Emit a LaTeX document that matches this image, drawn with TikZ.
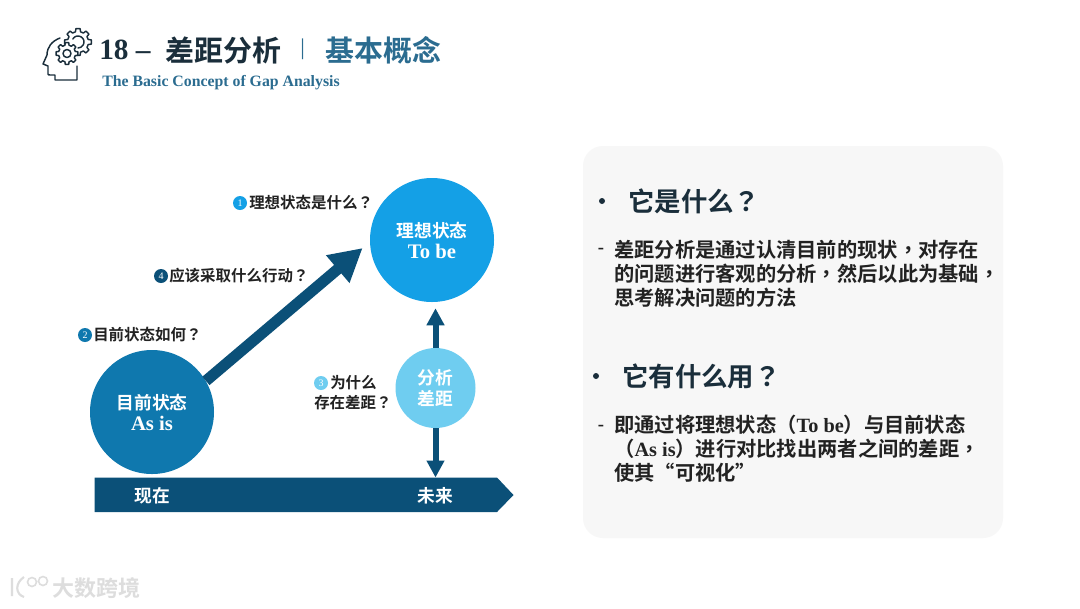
\documentclass[tikz,border=0pt]{standalone}
\usepackage{fontspec}
\usetikzlibrary{arrows.meta}
\setmainfont{Liberation Serif}
\newfontfamily\cjk{Noto Sans CJK SC}[BoldFont={Noto Sans CJK SC Bold}]
\newfontfamily\cjkp{Noto Sans CJK TC}[BoldFont={Noto Sans CJK TC Bold}]
\newcommand{\pct}[1]{{\cjkp\bfseries #1}}
\newcommand{\lat}[1]{{\rmfamily\bfseries #1}}
\newcommand{\latbig}[1]{{\rmfamily\bfseries\fontsize{15.5}{15.8}\selectfont #1}}
\definecolor{navy}{HTML}{0B5078}
\definecolor{dark}{HTML}{1A2E3B}
\definecolor{titleblue}{HTML}{2B6C90}
\definecolor{midblue}{HTML}{0F78AE}
\definecolor{brightblue}{HTML}{14A0E6}
\definecolor{paleblue}{HTML}{6FCDF0}
\definecolor{card}{HTML}{F7F7F7}
\definecolor{ink}{HTML}{222222}
\definecolor{wm}{HTML}{DDDDDD}
\tikzset{
 x=0.75pt,y=-0.75pt,
 circ/.style={circle,inner sep=0pt,minimum size=#1*0.75pt},
 lab/.style={font=\cjk\bfseries\fontsize{11.6}{15}\selectfont,text=ink,anchor=west,inner sep=0pt},
 incirc/.style={font=\cjk\bfseries\fontsize{13.3}{15.8}\selectfont,text=white,align=center,inner sep=0pt},
 badge/.style={circle,inner sep=0pt,minimum size=10.5pt,font=\fontsize{7.5}{7.5}\selectfont,text=white},
 headt/.style={font=\cjk\bfseries\fontsize{19.8}{22}\selectfont,text=dark,anchor=west,inner sep=0pt},
 body/.style={font=\cjk\bfseries\fontsize{15.2}{18}\selectfont,text=ink,anchor=west,inner sep=0pt,align=left},
 dashlab/.style={font=\bfseries\fontsize{14}{16}\selectfont,text=ink,inner sep=0pt},
 icon/.style={draw=dark,line width=1.1pt,line join=round,line cap=round},
 conn/.style={navy,line width=4.5pt,-{Triangle[length=12.75pt,width=12.75pt]}},
}
\newcommand{\geartooth}[5]{%
 \draw[icon,fill=white] ([shift={(#1,#2)}]-14:#4)
 \foreach \a in {0,45,...,315} {
  -- ([shift={(#1,#2)}]\a-14:#4) -- ([shift={(#1,#2)}]\a-9:#3) -- ([shift={(#1,#2)}]\a+9:#3) -- ([shift={(#1,#2)}]\a+14:#4)
  -- ([shift={(#1,#2)}]\a+31:#4)
 } -- cycle;}
\begin{document}
\begin{tikzpicture}
\useasboundingbox (0,0) rectangle (1080,608);
\fill[white] (0,0) rectangle (1080,608);
% icon
\draw[icon] (60,38) .. controls (52,41) and (47,47) .. (47,55) -- (43,64) -- (48,66) -- (48,74) .. controls (48,75) and (49,75) .. (50,75) -- (55,75) -- (55,80) -- (77,80) -- (77,66);
\geartooth{78}{42}{13.5}{10.5}{}
\draw[icon] (72.8,39) arc[start angle=-150,end angle=90,radius=6];
\geartooth{67}{53.5}{11}{8.5}{}
\draw[icon] (67,53.5) circle (4);
% title
\node[font=\bfseries\fontsize{22}{24}\selectfont,text=dark,anchor=west,inner sep=0pt] (n18) at (99,50) {18 –};
\node[font=\cjk\bfseries\fontsize{21.7}{24}\selectfont,text=dark,anchor=west,inner sep=0pt] (t1) at (165,50) {差距分析};
\node[font=\cjk\fontsize{14}{16}\selectfont,text=titleblue,inner sep=0pt] (sep) at (303,49) {|};
\node[font=\cjk\bfseries\fontsize{21.7}{24}\selectfont,text=titleblue,anchor=west,inner sep=0pt] (t2) at (325,50) {基本概念};
\node[font=\bfseries\fontsize{11.85}{13}\selectfont,text=titleblue,anchor=west,inner sep=0pt] (sub) at (102,83) {The Basic Concept of Gap Analysis};
% card
\fill[card,rounded corners=15pt] (583,146) rectangle (1003,538);
% timeline
\fill[navy] (94.5,477.5) -- (497,477.5) -- (513.5,495) -- (497,512) -- (94.5,512) -- cycle;
\coordinate (tl) at (436,477.5);
\node[incirc] (now) at (152,496) {现在};
\node[incirc] (fut) at (435,496) {未来};
% circles
\node[circ=124,fill=brightblue,incirc] (tobe) at (432,240) {理想状态\\\latbig{To be}};
\node[circ=124,fill=midblue,incirc] (asis) at (152,412) {目前状态\\\latbig{As is}};
\node[circ=80,fill=paleblue,incirc] (gap) at (435.5,388) {分析\\差距};
% arrows
\draw[navy,line width=8.3pt,-{Triangle[length=24.5pt,width=25.5pt]},shorten >=7pt] (asis.30) -- ([yshift=-1.5pt]tobe.180);
\draw[conn,shorten >=4.5pt] (gap.north) -- (gap.north |- tobe.south);
\draw[conn] (gap.south) -- (gap.south |- tl);
% labels
\node[badge,fill=brightblue] (b1) at (240,203) {1};
\node[lab] (l1) at (249,203) {理想状态是什么\pct{？}};
\node[badge,fill=navy] (b4) at (161,276) {4};
\node[lab] (l4) at (169,276) {应该采取什么行动\pct{？}};
\node[badge,fill=midblue] (b2) at (85,335) {2};
\node[lab] (l2) at (93,335) {目前状态如何\pct{？}};
\node[badge,fill=paleblue] (b3) at (321,383) {3};
\node[lab] (l3) at (330,383) {为什么};
\node[lab] (l3b) at (314,403) {存在差距\pct{？}};
% right text
\fill[dark] (602,201) circle (3);
\node[headt] (h1) at (628,201) {它是什么\pct{？}};
\node[dashlab] (d1) at (601,251) {-};
\node[body] (p1) at (614,273.5) {差距分析是通过认清目前的现状\pct{，}对存在\\的问题进行客观的分析\pct{，}然后以此为基础\pct{，}\\思考解决问题的方法};
\fill[dark] (596,376) circle (3);
\node[headt] (h2) at (622,376) {它有什么用\pct{？}};
\node[dashlab] (d2) at (601,428) {-};
\node[body] (p2) at (614,449) {即通过将理想状态（\lat{To be}）与目前状态\\（\lat{As is}）进行对比找出两者之间的差距\pct{，}\\使其“可视化”};
% watermark
\node[font=\cjk\bfseries\fontsize{16.5}{18}\selectfont,text=wm,anchor=west,inner sep=0pt] (wmt) at (52,588) {大数跨境};
\draw[wm,line width=1.6pt] (12,578) -- (12,596) (24,577) .. controls (15,583) and (15,594) .. (24,597);
\draw[wm,line width=1.2pt] (32,582) circle (4.5) (43,581) circle (4.5);
\end{tikzpicture}
\end{document}
